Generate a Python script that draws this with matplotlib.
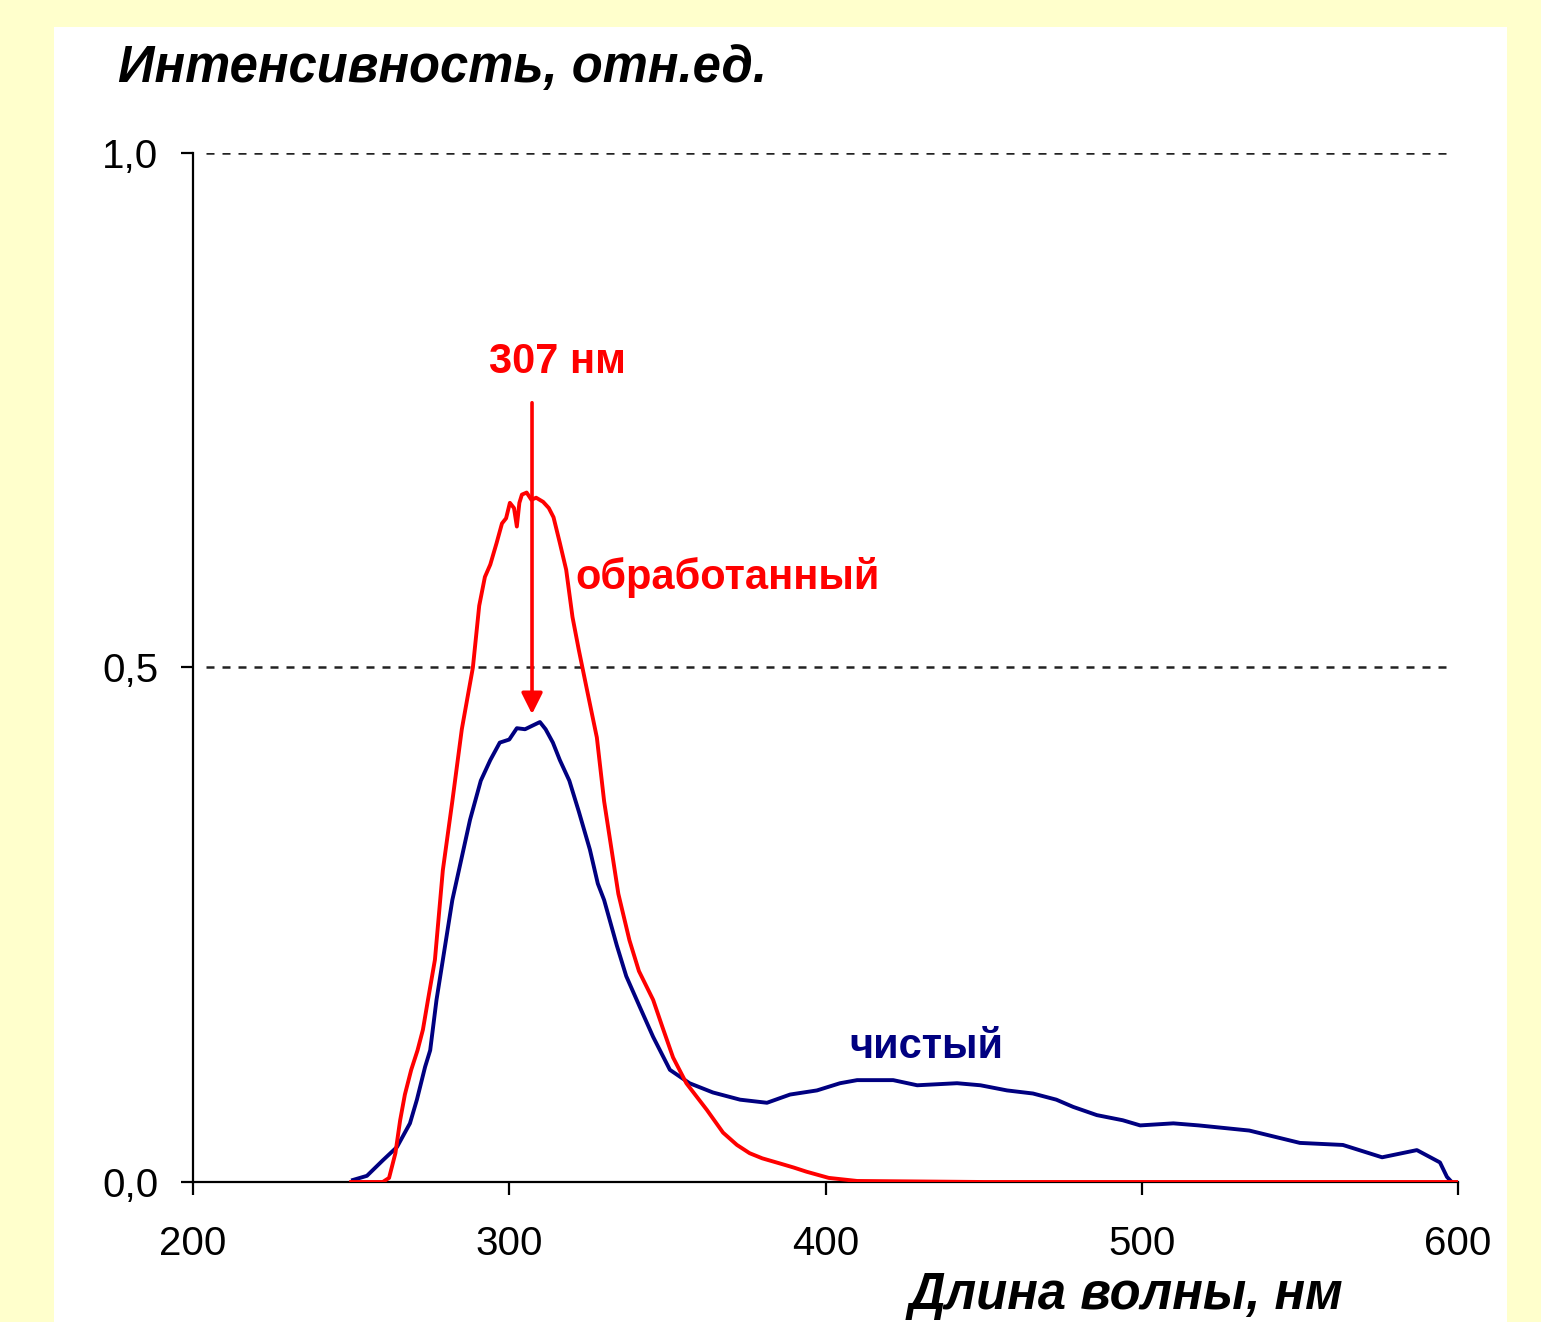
import matplotlib
matplotlib.use("Agg")
import matplotlib.pyplot as plt
from matplotlib.patches import Rectangle

plt.rcParams['font.family'] = ['Liberation Sans', 'DejaVu Sans']

# обработанный (красный)
wl_treated = [250, 255, 260, 262, 264, 265.5, 267, 269, 271, 272.7, 274.3, 276.5, 279, 282, 285,
              288.5, 290.5, 292.3, 294, 296, 297.7, 299, 300.2, 301.5, 302.4, 303.2, 304, 305.5,
              307, 308.5, 310.7, 312.5, 314, 316, 318, 320, 322, 324.6, 327.7, 330, 334.5, 338,
              341, 345.5, 348.5, 351.8, 356, 362.5, 367.6, 372, 376, 380, 385.6, 390, 394, 401,
              410, 450, 500, 550, 600]
int_treated = [0, 0, 0, 0.004, 0.028, 0.06, 0.085, 0.109, 0.128, 0.148, 0.177, 0.216, 0.303, 0.37,
               0.44, 0.5, 0.56, 0.588, 0.6, 0.621, 0.64, 0.645, 0.66, 0.655, 0.637, 0.66, 0.668,
               0.67, 0.663, 0.665, 0.661, 0.655, 0.646, 0.621, 0.595, 0.549, 0.517, 0.478, 0.432,
               0.37, 0.28, 0.235, 0.205, 0.177, 0.15, 0.121, 0.096, 0.07, 0.048, 0.036, 0.028,
               0.023, 0.018, 0.014, 0.01, 0.004, 0.001, 0.0, 0.0, 0.0, 0.0]

# чистый (синий)
wl_pure = [250.6, 255, 257, 260, 264.5, 268.6, 270.8, 273.4, 275, 277, 282, 287.6, 291, 294, 297,
           300, 302.4, 305, 307, 309.7, 311.5, 313.8, 316, 319, 322, 325.5, 328, 330, 334, 337,
           341.3, 345.5, 350.8, 357, 364.4, 373, 381.5, 388.8, 397.3, 404.6, 410, 421.4, 429,
           441.6, 449, 457.4, 465.6, 473, 478.3, 485.8, 494, 499.5, 510, 518, 534, 550, 563.6,
           576, 587, 594.3, 596.5, 598]
int_pure = [0.002, 0.006, 0.012, 0.021, 0.034, 0.057, 0.08, 0.112, 0.128, 0.177, 0.274, 0.352, 0.39,
            0.41, 0.427, 0.43, 0.441, 0.44, 0.443, 0.447, 0.44, 0.427, 0.41, 0.39, 0.36, 0.323,
            0.29, 0.274, 0.23, 0.2, 0.17, 0.141, 0.109, 0.096, 0.087, 0.08, 0.077, 0.085, 0.089,
            0.096, 0.099, 0.099, 0.094, 0.096, 0.094, 0.089, 0.086, 0.08, 0.073, 0.065, 0.06,
            0.055, 0.057, 0.055, 0.05, 0.038, 0.036, 0.024, 0.031, 0.019, 0.005, 0.0]

x_ticks = [200, 300, 400, 500, 600]
y_ticks = [0.0, 0.5, 1.0]
y_tick_labels = ['0,0', '0,5', '1,0']

W, H = 1541, 1322
fig = plt.figure(figsize=(W / 100, H / 100), dpi=100, facecolor='#FFFFCC')
fig.patches.append(Rectangle((54 / W, 0), (1507 - 54) / W, 1 - 27 / H,
                             transform=fig.transFigure, facecolor='white', edgecolor='none', zorder=-1))

ax = fig.add_axes([193 / W, 1 - 1182 / H, (1458 - 193) / W, (1182 - 153) / H])
ax.set_facecolor('none')
ax.set_xlim(200, 600)
ax.set_ylim(0, 1)

for yv in [0.5, 1.0]:
    ax.axhline(yv, xmin=0.01, xmax=0.994, color='#222222', lw=1.8, ls=(0, (3.2, 3.2)), zorder=1)

ax.plot(wl_pure, int_pure, color='#000080', lw=2.8, zorder=3)
ax.plot(wl_treated, int_treated, color='#FF0000', lw=2.8, zorder=4)

ax.spines['top'].set_visible(False)
ax.spines['right'].set_visible(False)
for s in ['left', 'bottom']:
    ax.spines[s].set_linewidth(1.6)
    ax.spines[s].set_zorder(2)
ax.set_xticks(x_ticks)
ax.set_yticks(y_ticks)
ax.set_yticklabels(y_tick_labels)
ax.tick_params(axis='both', labelsize=29, width=1.6, length=9, direction='out')
ax.tick_params(axis='y', pad=16)
ax.tick_params(axis='x', pad=22)

ax.annotate('', xy=(307.2, 0.452), xytext=(307.2, 0.76),
            arrowprops=dict(arrowstyle='-|>', color='#FF0000', lw=2.6, mutation_scale=32))
ax.text(315.1, 0.797, '307 нм', color='#FF0000', fontsize=30, fontweight='bold',
        ha='center', va='center')
ax.text(320.8, 0.587, 'обработанный', color='#FF0000', fontsize=30, fontweight='bold',
        ha='left', va='center')
ax.text(407.7, 0.131, 'чистый', color='#000080', fontsize=30, fontweight='bold',
        ha='left', va='center')

fig.text(118 / W, 1 - 68 / H, 'Интенсивность, отн.ед.', fontsize=36.5, fontweight='bold',
         fontstyle='italic', ha='left', va='center')
fig.text(1343 / W, 2 / H, 'Длина волны, нм', fontsize=36.5, fontweight='bold',
         fontstyle='italic', ha='right', va='bottom')

fig.savefig('out.png', dpi=100, facecolor=fig.get_facecolor())
